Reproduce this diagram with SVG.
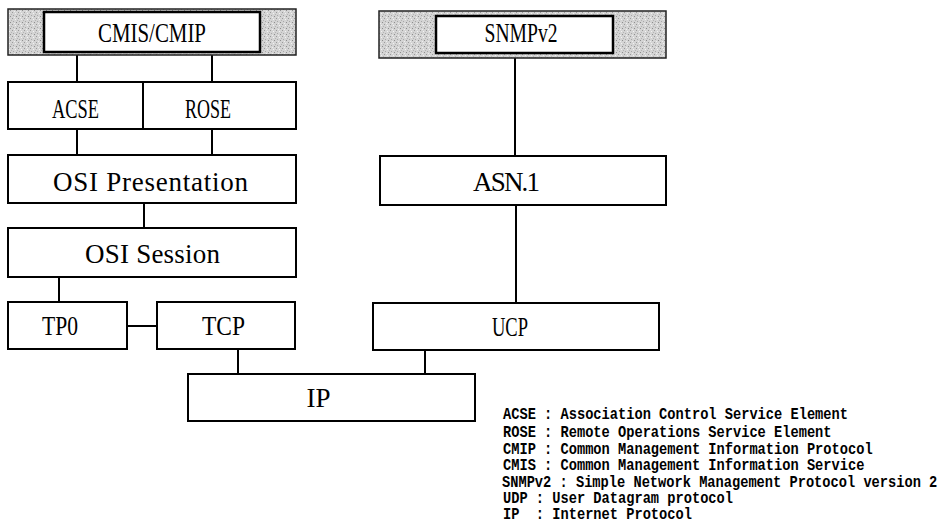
<svg xmlns="http://www.w3.org/2000/svg" width="942" height="525" viewBox="0 0 942 525">
<defs>
<pattern id="stipple" width="6" height="6" patternUnits="userSpaceOnUse">
<rect width="6" height="6" fill="#d4d4d4"/>
<rect x="0" y="0" width="1" height="1" fill="#9a9a9a"/>
<rect x="3" y="1" width="1" height="1" fill="#f2f2f2"/>
<rect x="1" y="3" width="1" height="1" fill="#a8a8a8"/>
<rect x="4" y="4" width="1" height="1" fill="#8e8e8e"/>
<rect x="5" y="2" width="1" height="1" fill="#b4b4b4"/>
<rect x="2" y="5" width="1" height="1" fill="#eeeeee"/>
</pattern>
<style>
.box{fill:#fff;stroke:#000;stroke-width:2}
.outer{fill:url(#stipple);stroke:#222;stroke-width:1.5}
.inner{fill:#fff;stroke:#000;stroke-width:2.5}
.lbl{font-family:"Liberation Serif","Times New Roman",serif;font-size:27px;fill:#000;text-anchor:middle}
.con{stroke:#000;stroke-width:2;fill:none}
.leg{font-family:"Liberation Mono","DejaVu Sans Mono",monospace;font-size:13.7px;font-weight:bold;fill:#000;white-space:pre}
</style>
</defs>
<rect width="942" height="525" fill="#fff"/>
<g id="connectors">
<line class="con" x1="77" y1="55" x2="77" y2="82"/>
<line class="con" x1="212" y1="55" x2="212" y2="82"/>
<line class="con" x1="77" y1="129" x2="77" y2="155"/>
<line class="con" x1="212" y1="129" x2="212" y2="155"/>
<line class="con" x1="144" y1="203" x2="144" y2="228"/>
<line class="con" x1="59" y1="277" x2="59" y2="302"/>
<line class="con" x1="127" y1="326" x2="157" y2="326"/>
<line class="con" x1="238" y1="349" x2="238" y2="374"/>
<line class="con" x1="425" y1="350" x2="425" y2="374"/>
<line class="con" x1="515" y1="58" x2="515" y2="156"/>
<line class="con" x1="516" y1="205" x2="516" y2="303"/>
</g>
<g id="cmis">
<rect class="outer" x="8" y="9" width="288" height="46"/>
<rect class="inner" x="44" y="12" width="216" height="40"/>
<text class="lbl" x="152" y="42" textLength="108" lengthAdjust="spacingAndGlyphs">CMIS/CMIP</text>
</g>
<g id="snmpv2">
<rect class="outer" x="379" y="11" width="287" height="47"/>
<rect class="inner" x="436" y="16" width="177" height="37"/>
<text class="lbl" x="521" y="42" textLength="73" lengthAdjust="spacingAndGlyphs">SNMPv2</text>
</g>
<g id="acse">
<rect class="box" x="8" y="82" width="135" height="47"/>
<text class="lbl" x="75.5" y="118" textLength="47" lengthAdjust="spacingAndGlyphs">ACSE</text>
</g>
<g id="rose">
<rect class="box" x="143" y="82" width="153" height="47"/>
<text class="lbl" x="208" y="118" textLength="46" lengthAdjust="spacingAndGlyphs">ROSE</text>
</g>
<g id="osi-presentation">
<rect class="box" x="8" y="155" width="288" height="48"/>
<text class="lbl" x="150.5" y="191" textLength="195" lengthAdjust="spacing">OSI Presentation</text>
</g>
<g id="osi-session">
<rect class="box" x="8" y="228" width="288" height="49"/>
<text class="lbl" x="152.5" y="263" textLength="135" lengthAdjust="spacing">OSI Session</text>
</g>
<g id="tp0">
<rect class="box" x="8" y="302" width="119" height="47"/>
<text class="lbl" x="60" y="335" textLength="36" lengthAdjust="spacingAndGlyphs">TP0</text>
</g>
<g id="tcp">
<rect class="box" x="157" y="302" width="138" height="47"/>
<text class="lbl" x="223.5" y="335" textLength="43" lengthAdjust="spacingAndGlyphs">TCP</text>
</g>
<g id="asn1">
<rect class="box" x="380" y="156" width="286" height="49"/>
<text class="lbl" x="506.5" y="191" textLength="67" lengthAdjust="spacing">ASN.1</text>
</g>
<g id="ucp">
<rect class="box" x="373" y="303" width="286" height="47"/>
<text class="lbl" x="510" y="336" textLength="36" lengthAdjust="spacingAndGlyphs">UCP</text>
</g>
<g id="ip">
<rect class="box" x="188" y="374" width="287" height="47"/>
<text class="lbl" x="318.5" y="407" textLength="24" lengthAdjust="spacing">IP</text>
</g>
<g id="legend" transform="scale(1,1.15)">
<text class="leg" x="503" y="364.3">ACSE : Association Control Service Element</text>
<text class="leg" x="503" y="380">ROSE : Remote Operations Service Element</text>
<text class="leg" x="503" y="394.8">CMIP : Common Management Information Protocol</text>
<text class="leg" x="503" y="408.7">CMIS : Common Management Information Service</text>
<text class="leg" x="502" y="423.5">SNMPv2 : Simple Network Management Protocol version 2</text>
<text class="leg" x="503" y="437.4">UDP : User Datagram protocol</text>
<text class="leg" x="503" y="451.3">IP  : Internet Protocol</text>
</g>
</svg>
